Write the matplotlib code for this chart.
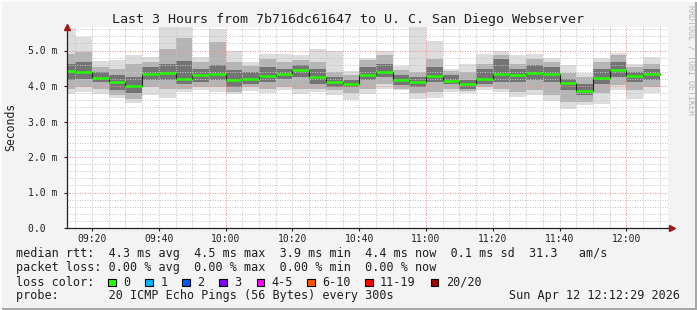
import matplotlib
matplotlib.use("Agg")
import matplotlib.pyplot as plt
import numpy as np
import pandas as pd
from matplotlib.patches import Rectangle

# ---------------- data (ms) ----------------
bar_start = pd.date_range("2026-04-12 09:10", periods=36, freq="5min")
median = [4.43, 4.40, 4.23, 4.11, 4.01, 4.34, 4.37, 4.21, 4.32, 4.34, 4.18, 4.21,
          4.29, 4.35, 4.45, 4.26, 4.11, 4.07, 4.32, 4.39, 4.18, 4.11, 4.29, 4.15,
          4.05, 4.21, 4.35, 4.30, 4.37, 4.34, 4.09, 3.87, 4.23, 4.45, 4.29, 4.34]
ping_max = [5.62, 5.38, 4.70, 4.74, 4.88, 4.83, 5.70, 5.70, 4.82, 5.61, 4.98, 4.68,
            4.91, 4.89, 4.86, 5.03, 4.98, 4.41, 4.79, 4.98, 4.55, 5.70, 5.26, 4.49,
            4.63, 4.91, 4.98, 4.86, 4.91, 4.79, 4.60, 4.37, 4.79, 4.93, 4.63, 4.83]
upper2 = [4.91, 4.96, 4.53, 4.48, 4.63, 4.68, 5.05, 5.35, 4.68, 5.24, 4.68, 4.55,
          4.77, 4.68, 4.72, 4.68, 4.39, 4.30, 4.72, 4.86, 4.44, 4.39, 4.77, 4.41,
          4.39, 4.63, 4.86, 4.63, 4.77, 4.68, 4.36, 4.25, 4.68, 4.86, 4.53, 4.63]
upper3 = [4.63, 4.68, 4.39, 4.30, 4.25, 4.53, 4.63, 4.70, 4.49, 4.58, 4.44, 4.40,
          4.53, 4.49, 4.58, 4.49, 4.25, 4.18, 4.53, 4.63, 4.30, 4.25, 4.53, 4.30,
          4.18, 4.49, 4.77, 4.49, 4.58, 4.53, 4.20, 4.06, 4.49, 4.68, 4.39, 4.49]
lower3 = [4.16, 4.20, 4.11, 3.88, 3.79, 4.16, 4.16, 4.06, 4.11, 4.16, 3.97, 4.06,
          4.11, 4.20, 4.25, 4.06, 3.97, 3.97, 4.16, 4.25, 4.02, 3.97, 4.11, 4.06,
          3.92, 4.06, 4.11, 4.11, 4.16, 4.11, 3.88, 3.74, 4.06, 4.25, 4.11, 4.16]
lower2 = [3.92, 3.97, 3.92, 3.74, 3.64, 3.97, 3.92, 3.92, 3.97, 3.97, 3.83, 3.97,
          3.92, 3.97, 3.92, 3.92, 3.88, 3.79, 3.92, 4.06, 3.92, 3.79, 3.83, 3.92,
          3.86, 3.97, 3.92, 3.83, 3.88, 3.74, 3.56, 3.55, 3.79, 4.02, 3.88, 3.97]
ping_min = [3.78, 3.83, 3.78, 3.66, 3.53, 3.76, 3.66, 3.82, 3.88, 3.83, 3.77, 3.86,
            3.81, 3.88, 3.78, 3.83, 3.75, 3.61, 3.78, 3.92, 3.88, 3.62, 3.66, 3.83,
            3.81, 3.88, 3.83, 3.69, 3.75, 3.58, 3.35, 3.47, 3.50, 3.88, 3.62, 3.81]

ytick_vals = [0, 1, 2, 3, 4, 5]
ytick_labels = ["0.0  ", "1.0 m", "2.0 m", "3.0 m", "4.0 m", "5.0 m"]
xtick_labels = ["09:20", "09:40", "10:00", "10:20", "10:40", "11:00", "11:20", "11:40", "12:00"]

loss_labels = ["0", "1", "2", "3", "4-5", "6-10", "11-19", "20/20"]
loss_colors = ["#26ff00", "#00b8ff", "#0059ff", "#7e00ff", "#ff00ff", "#ff5500", "#ff0000", "#a10000"]

title = "Last 3 Hours from 7b716dc61647 to U. C. San Diego Webserver"
row1 = "median rtt:  4.3 ms avg  4.5 ms max  3.9 ms min  4.4 ms now  0.1 ms sd  31.3   am/s"
row2 = "packet loss: 0.00 % avg  0.00 % max  0.00 % min  0.00 % now"
row3 = "loss color:"
row4 = "probe:       20 ICMP Echo Pings (56 Bytes) every 300s"
stamp = "Sun Apr 12 12:12:29 2026"

# ---------------- figure ----------------
W, H = 697, 310
BG = "#f3f3f3"
MONO = "DejaVu Sans Mono"
fig = plt.figure(figsize=(W / 100, H / 100), dpi=100, facecolor=BG)

def fx(x):
    return x / W

def fy(y):
    return 1 - y / H

ax = fig.add_axes([fx(67), fy(228), (668 - 67) / W, (228 - 27) / H])
ax.set_facecolor("white")

t0 = pd.Timestamp("2026-04-12 09:00")
starts = np.array([(t - t0).total_seconds() / 60 for t in bar_start])
width = 5.0

bands = [(ping_min, ping_max, "#dddddd"),
         (lower2, upper2, "#b4b4b4"),
         (lower3, upper3, "#747474")]
for lo, hi, col in bands:
    lo = np.array(lo); hi = np.array(hi)
    ax.bar(starts, hi - lo, bottom=lo, width=width, align="edge",
           color=col, linewidth=0, zorder=1)

# median: dark step line plus green segments
med = np.array(median)
xs = np.append(starts, starts[-1] + width)
ax.step(xs, np.append(med, med[-1]), where="post", color="#202020", lw=0.8, zorder=3)
ax.hlines(med, starts, starts + width, colors="#26ff00", lw=1.8, zorder=4)

xmin, xmax = 12 + 29 / 60, 192 + 29 / 60
ymax = 201 / 35.5
ax.set_xlim(xmin, xmax)
ax.set_ylim(0, ymax)

# grid (drawn over the smoke, like rrdtool)
dot = (0, (1, 1.5))
for xv in np.arange(15, 191, 5):
    if xv % 60:
        ax.axvline(xv, color="#c4c4c4", lw=0.72, linestyle=dot, zorder=2)
for xv in [60, 120, 180]:
    ax.axvline(xv, color="#f09090", lw=0.72, linestyle=dot, zorder=2)
for i in range(1, 29):
    yv = i * 0.2
    if i % 5:
        ax.axhline(yv, color="#c4c4c4", lw=0.72, linestyle=dot, zorder=2)
    else:
        ax.axhline(yv, color="#f09090", lw=0.72, linestyle=dot, zorder=2)

ax.set_yticks(ytick_vals)
ax.set_yticklabels(ytick_labels)
ax.set_xticks(np.arange(20, 181, 20))
ax.set_xticklabels(xtick_labels)

for sp in ["top", "right"]:
    ax.spines[sp].set_visible(False)
for sp in ["left", "bottom"]:
    ax.spines[sp].set_color("#202020")
    ax.spines[sp].set_linewidth(0.9)
    ax.spines[sp].set_zorder(5)

ax.tick_params(which="major", length=2, width=0.8, color="#202020", direction="out")
ax.tick_params(axis="y", pad=5.2)
ax.tick_params(axis="x", pad=2.5)
for lab in ax.get_xticklabels() + ax.get_yticklabels():
    lab.set_fontfamily(MONO)
    lab.set_fontsize(7)
    lab.set_color("#202020")

# axis arrows
ax.plot([0], [1.0], marker="^", markersize=4, color="#a01818", transform=ax.transAxes,
        clip_on=False, zorder=6)
ax.plot([1.006], [0], marker=">", markersize=4, color="#a01818", transform=ax.transAxes,
        clip_on=False, zorder=6)
ax.plot([1.0, 1.006], [0, 0], color="#202020", lw=0.9, transform=ax.transAxes, clip_on=False, zorder=5)

# texts
fig.text(fx(348.5), fy(19), title, fontfamily=MONO, fontsize=9.6, ha="center", va="center", color="#202020")
fig.text(fx(11), fy(127), "Seconds", fontfamily=MONO, fontsize=8.3, rotation=90,
         ha="center", va="center", color="#202020")
fig.text(fx(690.5), fy(60), "RRDTOOL / TOBI OETIKER", fontfamily=MONO, fontsize=6,
         rotation=270, ha="center", va="center", color="#b4b4b4")

LX = 16
fig.text(fx(LX), fy(254), row1, fontfamily=MONO, fontsize=8.5, va="center", color="#202020")
fig.text(fx(LX), fy(268), row2, fontfamily=MONO, fontsize=8.5, va="center", color="#202020")
fig.text(fx(LX), fy(282), row3, fontfamily=MONO, fontsize=8.5, va="center", color="#202020")
fig.text(fx(LX), fy(296), row4, fontfamily=MONO, fontsize=8.5, va="center", color="#202020")
fig.text(fx(680), fy(296), stamp, fontfamily=MONO, fontsize=8.5, va="center", ha="right", color="#202020")

box_x = [108, 145.3, 182.3, 219.3, 256.7, 307, 365, 430.7]
for bx, lab, col in zip(box_x, loss_labels, loss_colors):
    fig.patches.append(Rectangle((fx(bx), fy(286)), 7.5 / W, 7.5 / H, transform=fig.transFigure,
                                 facecolor=col, edgecolor="black", linewidth=0.8))
    fig.text(fx(bx + 15), fy(282), lab, fontfamily=MONO, fontsize=8.5, va="center", color="#202020")

# 3D-ish border
fig.patches.append(Rectangle((0, 0), 1, 2 / H, transform=fig.transFigure, facecolor="#a8a8a8", lw=0))
fig.patches.append(Rectangle((1 - 2 / W, 0), 2 / W, 1, transform=fig.transFigure, facecolor="#a8a8a8", lw=0))
fig.patches.append(Rectangle((0, 1 - 2 / H), 1, 2 / H, transform=fig.transFigure, facecolor="#fcfcfc", lw=0))
fig.patches.append(Rectangle((0, 0), 2 / W, 1, transform=fig.transFigure, facecolor="#fcfcfc", lw=0))

fig.savefig("out.png", dpi=100, facecolor=BG)
